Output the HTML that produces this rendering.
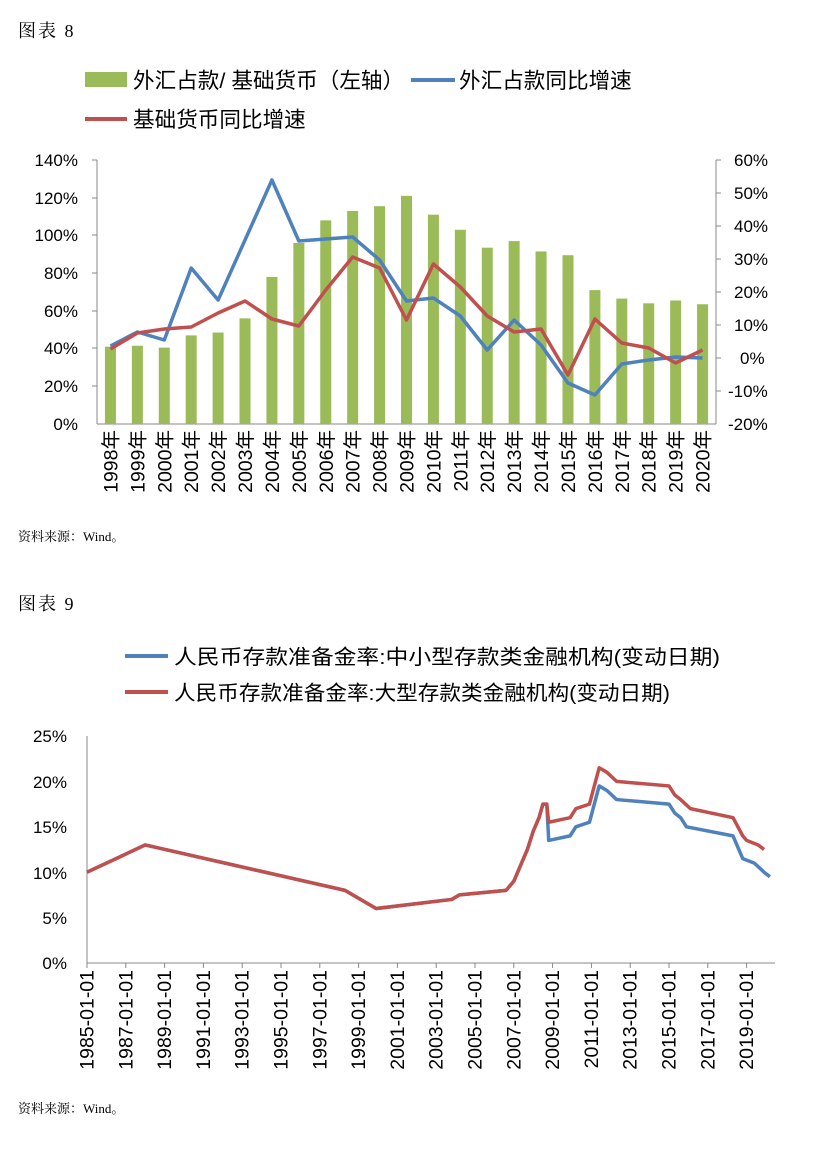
<!DOCTYPE html>
<html><head><meta charset="utf-8"><style>
body{margin:0;background:#fff}
svg text{font-family:"Liberation Sans","Noto Sans CJK SC",sans-serif;fill:#000}
</style></head><body>
<svg width="817" height="1146" viewBox="0 0 817 1146" xmlns="http://www.w3.org/2000/svg">
<text x="18" y="37" font-size="18" letter-spacing="2" style="font-family:'Liberation Serif','Noto Serif CJK SC',serif">图表  8</text>
<rect x="85" y="72" width="42" height="15" fill="#9bbb59"/>
<text x="133" y="88" font-size="21.6">外汇占款/ 基础货币（左轴）</text>
<line x1="411" y1="80" x2="455" y2="80" stroke="#4f81bd" stroke-width="4"/>
<text x="459" y="88" font-size="21.6">外汇占款同比增速</text>
<line x1="85" y1="119" x2="127" y2="119" stroke="#c0504d" stroke-width="4"/>
<text x="133" y="127" font-size="21.6">基础货币同比增速</text>
<g font-size="17" text-anchor="end">
<text x="78" y="166">140%</text><text x="78" y="204">120%</text><text x="78" y="241">100%</text>
<text x="78" y="279">80%</text><text x="78" y="317">60%</text><text x="78" y="354">40%</text>
<text x="78" y="392">20%</text><text x="78" y="430">0%</text>
</g>
<g font-size="17">
<text x="734" y="166">60%</text><text x="734" y="199">50%</text><text x="734" y="232">40%</text>
<text x="734" y="265">30%</text><text x="734" y="298">20%</text><text x="734" y="331">10%</text>
<text x="740" y="364">0%</text><text x="728" y="397">-10%</text><text x="728" y="430">-20%</text>
</g>
<line x1="97" y1="160" x2="97" y2="424" stroke="#888"/>
<line x1="716" y1="160" x2="716" y2="424" stroke="#888"/>
<line x1="97" y1="424" x2="716" y2="424" stroke="#888"/>
<g stroke="#888">
<line x1="92" y1="160" x2="97" y2="160"/><line x1="92" y1="198" x2="97" y2="198"/><line x1="92" y1="235" x2="97" y2="235"/><line x1="92" y1="273" x2="97" y2="273"/><line x1="92" y1="311" x2="97" y2="311"/><line x1="92" y1="348" x2="97" y2="348"/><line x1="92" y1="386" x2="97" y2="386"/>
<line x1="716" y1="160" x2="721" y2="160"/><line x1="716" y1="193" x2="721" y2="193"/><line x1="716" y1="226" x2="721" y2="226"/><line x1="716" y1="259" x2="721" y2="259"/><line x1="716" y1="292" x2="721" y2="292"/><line x1="716" y1="325" x2="721" y2="325"/><line x1="716" y1="358" x2="721" y2="358"/><line x1="716" y1="391" x2="721" y2="391"/>
</g>
<g id="bars" fill="#9bbb59"></g>
<g id="xl1" font-size="19.5"></g>
<polyline id="b1" fill="none" stroke="#4f81bd" stroke-width="3.5" stroke-linejoin="round"/>
<polyline id="r1" fill="none" stroke="#c0504d" stroke-width="3.5" stroke-linejoin="round"/>
<text x="18" y="541" font-size="13" style="font-family:'Liberation Serif','Noto Serif CJK SC',serif">资料来源：Wind。</text>

<text x="18" y="610" font-size="18" letter-spacing="2" style="font-family:'Liberation Serif','Noto Serif CJK SC',serif">图表  9</text>
<line x1="125" y1="656" x2="168" y2="656" stroke="#4f81bd" stroke-width="4"/>
<text x="174" y="664" font-size="20.5" textLength="546" lengthAdjust="spacingAndGlyphs">人民币存款准备金率:中小型存款类金融机构(变动日期)</text>
<line x1="125" y1="692" x2="168" y2="692" stroke="#c0504d" stroke-width="4"/>
<text x="174" y="700" font-size="20.5" textLength="496" lengthAdjust="spacingAndGlyphs">人民币存款准备金率:大型存款类金融机构(变动日期)</text>
<g font-size="17" text-anchor="end">
<text x="67" y="742">25%</text><text x="67" y="788">20%</text><text x="67" y="833">15%</text>
<text x="67" y="879">10%</text><text x="67" y="924">5%</text><text x="67" y="969">0%</text>
</g>
<line x1="87" y1="736" x2="87" y2="963" stroke="#888"/>
<line x1="87" y1="963" x2="775" y2="963" stroke="#888"/>
<g id="t2" stroke="#888"></g>
<g id="xl2" font-size="19.5"></g>
<polyline id="b2" fill="none" stroke="#4f81bd" stroke-width="3.5" stroke-linejoin="round"/>
<polyline id="r2" fill="none" stroke="#c0504d" stroke-width="3.5" stroke-linejoin="round"/>
<text x="18" y="1113" font-size="13" style="font-family:'Liberation Serif','Noto Serif CJK SC',serif">资料来源：Wind。</text>
</svg>
<script>
var NS="http://www.w3.org/2000/svg";
function el(t,a,p,txt){var e=document.createElementNS(NS,t);for(var k in a)e.setAttribute(k,a[k]);if(txt)e.textContent=txt;document.getElementById(p).appendChild(e);}
var bars=[41,41.5,40.5,47,48.5,56,78,96,108,113,115.5,121,111,103,93.5,97,91.5,89.5,71,66.5,64,65.5,63.5];
var bl=[346,332,340,268,300,240,180,241,239,237,260,301,298,316,350,320,345,383,395,364,360,357,358];
var rl=[349,333,329,327,313,301,319,326,290,257,268,320,264,287,316,332,329,375,319,343,348,363,350];
var w=(716-97)/23,pb=[],pr=[];
for(var i=0;i<23;i++){var cx=97+w*(i+0.5);var h=bars[i]*264/140;
el("rect",{x:cx-5.5,y:424-h,width:11,height:h},"bars");
el("text",{transform:"translate("+(cx+7)+",430) rotate(-90)","text-anchor":"end"},"xl1",(1998+i)+"年");
pb.push(cx+","+bl[i]);pr.push(cx+","+rl[i]);}
document.getElementById("b1").setAttribute("points",pb.join(" "));
document.getElementById("r1").setAttribute("points",pr.join(" "));
function X(y){return 87+19.4*(y-1985)}function Y(v){return 963-v*227/25}
for(var y=1985;y<=2019;y+=2){var x=X(y);el("line",{x1:x,y1:963,x2:x,y2:968},"t2");
el("text",{transform:"translate("+(x+6.5)+",970) rotate(-90)","text-anchor":"end"},"xl2",y+"-01-01");}
var common=[[1985,10],[1988,13],[1998.3,8],[1999.9,6],[2003.8,7],[2004.2,7.5],[2006.6,8],[2007,9],[2007.4,11],[2007.7,12.5],[2008,14.5],[2008.3,16],[2008.5,17.5],[2008.7,17.5]];
var red=common.concat([[2008.8,15.5],[2009.9,16],[2010.2,17],[2010.9,17.5],[2011.4,21.5],[2011.8,21],[2012.3,20],[2015,19.5],[2015.3,18.5],[2015.6,18],[2016.1,17],[2018.3,16],[2018.8,14],[2019,13.5],[2019.6,13],[2019.9,12.5]]);
var blue=common.concat([[2008.8,13.5],[2009.9,14],[2010.2,15],[2010.9,15.5],[2011.4,19.5],[2011.8,19],[2012.3,18],[2015,17.5],[2015.3,16.5],[2015.6,16],[2015.9,15],[2018.3,14],[2018.8,11.5],[2019.4,11],[2019.9,10],[2020.2,9.5]]);
function pts(a){return a.map(function(p){return X(p[0])+","+Y(p[1])}).join(" ")}
document.getElementById("b2").setAttribute("points",pts(blue));
document.getElementById("r2").setAttribute("points",pts(red));
</script>
</body></html>
